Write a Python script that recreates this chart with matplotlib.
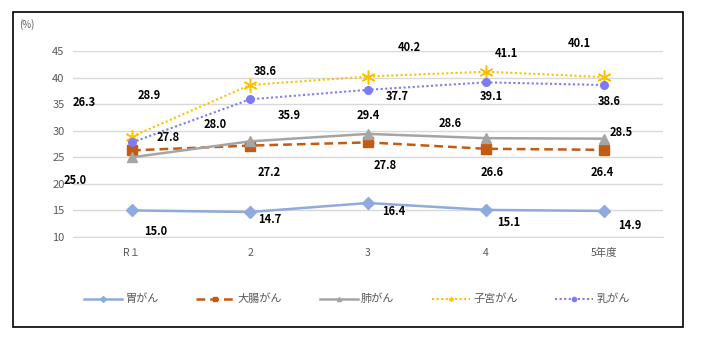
import matplotlib
matplotlib.use("Agg")
import matplotlib.pyplot as plt
from matplotlib.lines import Line2D
from matplotlib.patches import Rectangle

plt.rcParams['font.family'] = ['Noto Sans CJK JP', 'DejaVu Sans']

categories = ["R１", "2", "3", "4", "5年度"]
series_names = ["胃がん", "大腸がん", "肺がん", "子宮がん", "乳がん"]
stomach = [15.0, 14.7, 16.4, 15.1, 14.9]
colon = [26.3, 27.2, 27.8, 26.6, 26.4]
lung = [25.0, 28.0, 29.4, 28.6, 28.5]
uterus = [28.9, 38.6, 40.2, 41.1, 40.1]
breast = [27.8, 35.9, 37.7, 39.1, 38.6]
yticks = [10, 15, 20, 25, 30, 35, 40, 45]

styles = [
    dict(color="#8FAADC", ls="-", lw=1.8, marker="D", ms=6),
    dict(color="#C55A11", ls=(0, (3.5, 2)), lw=1.8, marker="s", ms=6.5),
    dict(color="#A5A5A5", ls="-", lw=1.8, marker="^", ms=7.5),
    dict(color="#FFC000", ls=(0, (1, 1.2)), lw=1.5, marker=(6, 2, 0), ms=10),
    dict(color="#7B7BF5", ls=(0, (1, 1.2)), lw=1.5, marker="o", ms=5.5),
]

# label offsets in pixels (dx, dy) relative to data point
offsets = [
    [(24, -21), (20, -7), (26, -9), (23, -13), (26, -15)],
    [(-48, 48), (19, -27), (17, -23), (6, -24), (-2, -23)],
    [(-57, -23), (-35, 17), (0, 18), (-36, 15), (17, 6)],
    [(17, 41), (15, 14), (41, 29), (20, 18), (-25, 34)],
    [(36, 5), (39, -16), (29, -7), (5, -14), (5, -16)],
]

W, H = 704, 347
fig = plt.figure(figsize=(W / 100, H / 100), dpi=100)
fig.patch.set_facecolor("white")

ax = fig.add_axes([73 / W, (H - 237) / H, 590 / W, 186 / H])
x = list(range(1, len(categories) + 1))
data = [stomach, colon, lung, uterus, breast]

for i, (vals, st) in enumerate(zip(data, styles)):
    ax.plot(x, vals, color=st["color"], ls=st["ls"], lw=st["lw"], marker=st["marker"],
            ms=st["ms"], mfc=st["color"], mec=st["color"], mew=1.1 if i == 3 else 1.0,
            zorder=3 + i)
for i, vals in enumerate(data):
    for xi, v, (dx, dy) in zip(x, vals, offsets[i]):
        ax.annotate(f"{v:.1f}", (xi, v), xytext=(dx, dy), textcoords="offset pixels",
                    ha="center", va="center", fontsize=8, fontweight="bold", color="black",
                    zorder=10)

ax.set_xlim(0.5, len(categories) + 0.5)
ax.set_ylim(10, 45)
ax.set_yticks(yticks)
ax.set_xticks(x)
ax.set_xticklabels(categories)
ax.grid(axis="y", color="#D9D9D9", lw=1.0)
ax.set_axisbelow(True)
for s in ["top", "right", "left"]:
    ax.spines[s].set_visible(False)
ax.spines["bottom"].set_color("#D9D9D9")
ax.tick_params(axis="both", length=0, labelsize=8, colors="#595959")
ax.tick_params(axis="x", pad=8, labelsize=7.5)
ax.tick_params(axis="y", pad=6)

fig.text(19 / W, 1 - 25 / H, "(%)", fontsize=7, color="#595959", va="center", ha="left")

handles = [Line2D([], [], color=st["color"], ls=st["ls"], lw=st["lw"], marker=st["marker"],
                  ms=3, mfc=st["color"], mec=st["color"]) for st in styles]
fig.legend(handles, series_names, loc="center", bbox_to_anchor=(357 / W, 1 - 299 / H), ncol=5,
           frameon=False, fontsize=8, labelcolor="#595959", handlelength=3.4,
           columnspacing=3.4, handletextpad=0.3)

fig.patches.append(Rectangle((13 / W, (H - 327) / H), 670 / W, 315 / H, transform=fig.transFigure,
                             fill=False, edgecolor="black", lw=1.2))

fig.savefig("out.png", dpi=100)
